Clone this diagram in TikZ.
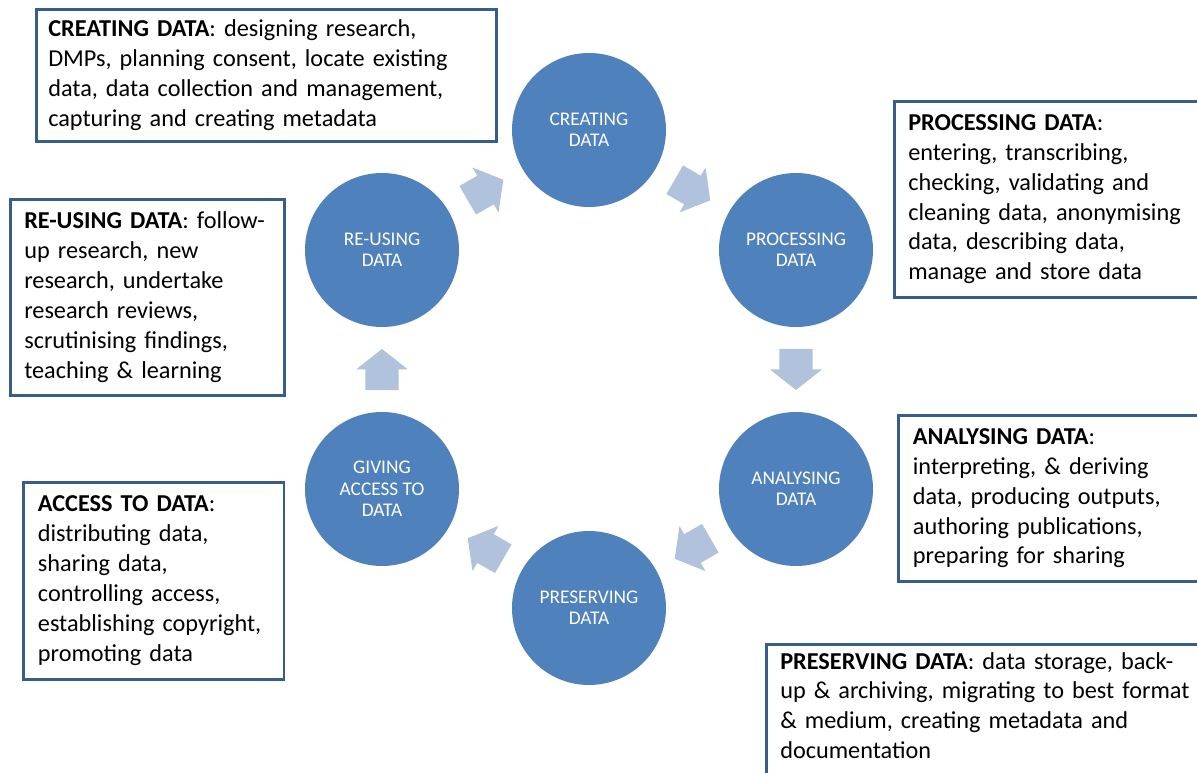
\documentclass[tikz,border=0pt]{standalone}
\usepackage{fontspec}
\setmainfont{Carlito}
\usetikzlibrary{calc}
\definecolor{circc}{RGB}{79,129,189}
\definecolor{arrc}{RGB}{177,194,221}
\definecolor{boxc}{RGB}{56,93,138}
\newcommand\blockarr[2]{%
  \fill[arrc] let \p1=($(#2)-(#1)$), \n1={atan2(\y1,\x1)}, \p2=($(#1)!0.5!(#2)$) in
    ($(\p2)+(\n1:-15.4pt)+({\n1+90}:12.4pt)$) -- ($(\p2)+({\n1+90}:12.4pt)$)
    -- ($(\p2)+({\n1+90}:19.5pt)$) -- ($(\p2)+(\n1:15.4pt)$)
    -- ($(\p2)+({\n1-90}:19.5pt)$) -- ($(\p2)+({\n1-90}:12.4pt)$)
    -- ($(\p2)+(\n1:-15.4pt)+({\n1-90}:12.4pt)$) -- cycle;}
\tikzset{
  stage/.style={circle, fill=circc, minimum size=115.5pt, inner sep=0pt,
    text=white, align=center, font=\fontsize{14.5}{16}\selectfont},
  infobox/.style={draw=boxc, line width=1.9pt, fill=white, align=left,
    anchor=north west, inner ysep=4pt, font=\fontsize{18.2}{22.4}\selectfont}
}
\begin{document}
\begin{tikzpicture}[x=0.75pt,y=-0.75pt]
\path[use as bounding box] (0,0) rectangle (1197,773);
\clip (0,0) rectangle (1197,773);
\fill[white] (0,0) rectangle (1197,773);
% stages
\node[stage] (create) at (589,130) {CREATING\\DATA};
\node[stage] (process) at (796,250) {PROCESSING\\DATA};
\node[stage] (analyse) at (796,489) {ANALYSING\\DATA};
\node[stage] (preserve) at (589,608) {PRESERVING\\DATA};
\node[stage] (access) at (382,489) {GIVING\\ACCESS TO\\DATA};
\node[stage] (reuse) at (382,250) {RE-USING\\DATA};
% block arrows
\blockarr{create}{process}
\blockarr{process}{analyse}
\blockarr{analyse}{preserve}
\blockarr{preserve}{access}
\blockarr{access}{reuse}
\blockarr{reuse}{create}
% info boxes
\node[infobox, inner xsep=9pt, text width=327pt, minimum height=99pt] (bcreate) at (35,8)
 {\textbf{CREATING DATA}: designing research,\\DMPs, planning consent, locate existing\\data, data collection and management,\\capturing and creating metadata};
\node[infobox, inner xsep=10.5pt, text width=219pt, minimum height=147pt] (bprocess) at (893,100)
 {\textbf{PROCESSING DATA}:\\entering, transcribing,\\checking, validating and\\cleaning data, anonymising\\data, describing data,\\manage and store data};
\node[infobox, inner xsep=10.5pt, text width=184.5pt, minimum height=147pt] (breuse) at (9,198)
 {\textbf{RE-USING DATA}: follow-\\up research, new\\research, undertake\\research reviews,\\scrutinising findings,\\teaching \& learning};
\node[infobox, inner xsep=11pt, text width=218pt, minimum height=124.5pt] (banalyse) at (897,414)
 {\textbf{ANALYSING DATA}:\\interpreting, \& deriving\\data, producing outputs,\\authoring publications,\\preparing for sharing};
\node[infobox, inner xsep=11pt, text width=173.5pt, minimum height=147.75pt] (baccess) at (22,481)
 {\textbf{ACCESS TO DATA}:\\distributing data,\\sharing data,\\controlling access,\\establishing copyright,\\promoting data};
\node[infobox, inner xsep=10.5pt, inner ysep=6pt, text width=320pt] (bpreserve) at (765,643)
 {\textbf{PRESERVING DATA}: data storage, back-\\up \& archiving, migrating to best format\\\& medium, creating metadata and\\documentation\\\strut};
\end{tikzpicture}
\end{document}
